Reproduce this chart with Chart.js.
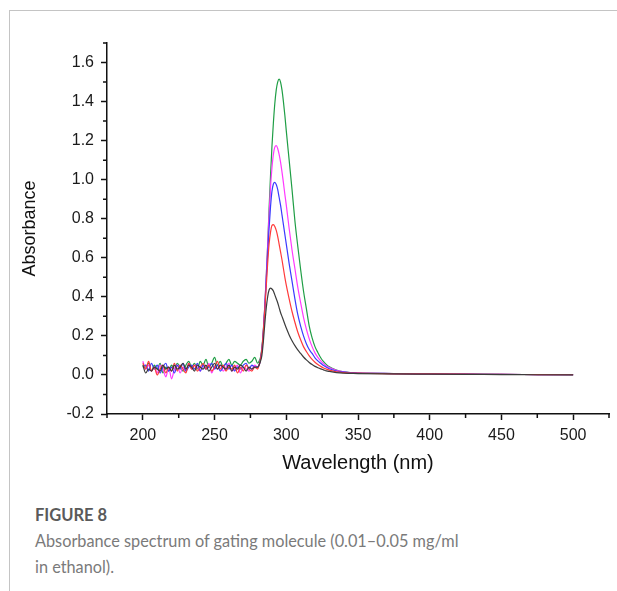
<!DOCTYPE html>
<html>
<head>
<meta charset="utf-8">
<script src="https://cdn.jsdelivr.net/npm/chart.js"></script>
<style>
	html, body { margin: 0; padding: 0; background: #fff; }
	body { width: 617px; height: 591px; position: relative; overflow: hidden; }
	#frame { position: absolute; left: 9px; top: 10px; width: 608px; height: 581px;
		border-top: 1px solid #c4c4c4; border-left: 1px solid #c4c4c4; }
	#chartBox { position: absolute; left: 0; top: 0; width: 617px; height: 480px; }
	#caption { position: absolute; left: 35px; top: 503px; font-family: Lato, "Open Sans", sans-serif; }
	#caption .fig { font-size: 16.5px; font-weight: bold; color: #5a5a5a; line-height: 24px; }
	#caption .txt { font-size: 16.3px; font-weight: 400; color: #7a7a7a; line-height: 26px; margin-top: 1px; }
</style>
</head>
<body>
<div id="frame"></div>
<div id="chartBox"><canvas id="absChart" width="617" height="480"></canvas></div>
<div id="caption">
	<div class="fig">FIGURE 8</div>
	<div class="txt">Absorbance spectrum of gating molecule (0.01–0.05 mg/ml<br>in ethanol).</div>
</div>
<script>
// 파장 (nm)
var wavelengths = [200,202,204,206,208,210,212,214,216,218,220,222,224,226,228,230,232,234,236,238,
	240,242,244,246,248,250,252,254,256,258,260,262,264,266,268,270,272,274,276,278,
	280,281,282,283,284,285,286,287,288,289,290,291,292,293,294,295,296,297,298,299,300,
	302,304,306,308,310,312,314,316,318,320,322,324,326,328,330,
	335,340,345,350,375,400,425,450,475,500];

// 흡광도 - 농도별
var abs001 = [0.05,0.01,0.03,0.02,0.04,0.03,0.02,0.05,0.03,0.04,0.02,0.05,0.03,0.04,0.06,0.03,0.05,0.04,0.02,0.05,
	0.04,0.03,0.05,0.02,0.04,0.06,0.03,0.05,0.04,0.03,0.05,0.02,0.04,0.03,0.05,0.04,0.02,0.04,0.03,0.04,
	0.04,0.05,0.07,0.10,0.17,0.26,0.34,0.40,0.435,0.445,0.44,0.43,0.41,0.39,0.37,0.345,0.32,0.30,0.28,0.26,0.24,
	0.205,0.175,0.15,0.128,0.11,0.092,0.077,0.064,0.053,0.044,0.037,0.031,0.026,0.021,0.018,
	0.012,0.009,0.008,0.007,0.005,0.004,0.003,0.002,0.001,0.0];
var abs002 = [0.06,0.03,0.07,0.02,0.04,0.00,0.03,0.05,0.01,0.04,0.02,0.06,0.02,0.05,0.03,0.01,0.06,0.03,0.05,0.02,
	0.04,0.06,0.03,0.05,0.02,0.04,0.07,0.03,0.05,0.02,0.04,0.03,0.05,0.01,0.04,0.02,0.05,0.03,0.02,0.04,
	0.03,0.05,0.08,0.13,0.22,0.33,0.45,0.57,0.67,0.73,0.765,0.77,0.76,0.74,0.71,0.67,0.63,0.59,0.545,0.50,0.46,
	0.39,0.325,0.27,0.22,0.18,0.145,0.12,0.098,0.08,0.065,0.053,0.044,0.036,0.03,0.025,
	0.016,0.012,0.01,0.009,0.006,0.005,0.004,0.003,0.002,0.001];
var abs003 = [0.04,0.05,0.02,0.06,0.03,0.05,0.01,0.04,0.06,0.02,0.04,0.01,0.05,0.03,0.06,0.02,0.04,0.05,0.03,0.06,
	0.02,0.05,0.03,0.04,0.06,0.03,0.05,0.02,0.04,0.06,0.03,0.05,0.02,0.04,0.03,0.05,0.06,0.03,0.05,0.04,
	0.04,0.05,0.08,0.13,0.22,0.34,0.48,0.62,0.75,0.86,0.94,0.978,0.986,0.975,0.95,0.91,0.87,0.82,0.77,0.72,0.67,
	0.57,0.48,0.39,0.31,0.25,0.20,0.16,0.13,0.11,0.088,0.072,0.06,0.048,0.039,0.032,
	0.02,0.014,0.011,0.01,0.007,0.005,0.004,0.003,0.002,0.001];
var abs004 = [0.07,0.03,0.05,0.02,0.04,0.01,0.05,0.03,-0.01,0.04,-0.02,0.03,0.05,0.01,0.04,0.02,0.06,0.03,0.05,0.04,
	0.02,0.05,0.03,0.06,0.01,0.04,0.03,0.05,0.02,0.04,0.06,0.02,0.03,0.05,0.01,0.04,0.03,0.02,0.03,0.05,
	0.04,0.05,0.08,0.13,0.22,0.35,0.50,0.66,0.82,0.96,1.06,1.13,1.167,1.174,1.16,1.13,1.09,1.04,0.985,0.925,0.87,
	0.75,0.64,0.545,0.45,0.37,0.295,0.235,0.185,0.145,0.113,0.09,0.072,0.058,0.046,0.038,
	0.024,0.016,0.012,0.01,0.007,0.005,0.004,0.003,0.002,0.001];
var abs005 = [0.05,0.04,0.06,0.02,0.05,0.03,0.06,0.01,0.04,0.02,0.05,0.03,0.06,0.04,0.02,0.05,0.07,0.04,0.06,0.03,
	0.07,0.05,0.08,0.04,0.06,0.09,0.05,0.07,0.04,0.06,0.08,0.05,0.07,0.06,0.05,0.07,0.08,0.06,0.07,0.09,
	0.06,0.07,0.09,0.14,0.23,0.35,0.50,0.66,0.85,1.02,1.17,1.29,1.39,1.46,1.50,1.515,1.50,1.46,1.40,1.33,1.25,
	1.10,0.95,0.79,0.66,0.54,0.43,0.34,0.25,0.19,0.145,0.115,0.088,0.068,0.053,0.042,
	0.025,0.016,0.012,0.01,0.007,0.005,0.004,0.003,0.002,0.001];

// 눈금
var xTicks = [200, 250, 300, 350, 400, 450, 500];
var xMinorTicks = [175, 225, 275, 325, 375, 425, 475, 525];
var yTicks = [-0.2, 0.0, 0.2, 0.4, 0.6, 0.8, 1.0, 1.2, 1.4, 1.6];
var yMinorTicks = [-0.1, 0.1, 0.3, 0.5, 0.7, 0.9, 1.1, 1.3, 1.5, 1.7];

function toPoints(values) {
	return values.map(function(v, i) { return { x: wavelengths[i], y: v }; });
}

function makeSet(label, values, color) {
	return {
		label: label,
		data: toPoints(values),
		borderColor: color,
		borderWidth: 1.2,
		pointRadius: 0,
		fill: false,
		cubicInterpolationMode: 'monotone'
	};
}

// 보조 눈금 그리기
var minorTickPlugin = {
	id: 'minorTicks',
	afterDraw: function(chart) {
		var ctx = chart.ctx;
		var area = chart.chartArea;
		var xs = chart.scales.x, ys = chart.scales.y;
		ctx.save();
		ctx.strokeStyle = '#111';
		ctx.lineWidth = 1.5;
		ctx.beginPath();
		xMinorTicks.forEach(function(v) {
			var px = xs.getPixelForValue(v);
			ctx.moveTo(px, area.bottom);
			ctx.lineTo(px, area.bottom + 4);
		});
		yMinorTicks.forEach(function(v) {
			var py = ys.getPixelForValue(v);
			ctx.moveTo(area.left, py);
			ctx.lineTo(area.left - 4, py);
		});
		ctx.stroke();
		ctx.restore();
	}
};

var fontName = "'Liberation Sans', Arial, sans-serif";
var tickFont = { family: fontName, size: 16 };

new Chart(document.getElementById('absChart').getContext('2d'), {
	type: 'line',
	data: {
		datasets: [
			makeSet('0.01 mg/ml', abs001, '#3c3c3c'),
			makeSet('0.02 mg/ml', abs002, '#ff3a3a'),
			makeSet('0.03 mg/ml', abs003, '#3a3aff'),
			makeSet('0.04 mg/ml', abs004, '#ff3aff'),
			makeSet('0.05 mg/ml', abs005, '#1f9e45')
		]
	},
	options: {
		responsive: false,
		animation: false,
		layout: { padding: { top: 43, right: 8, left: 0, bottom: 0 } },
		plugins: {
			legend: { display: false },
			tooltip: { enabled: false }
		},
		scales: {
			x: {
				type: 'linear',
				min: 175,
				max: 525,
				afterFit: function(scale) { scale.height = 66; },
				afterBuildTicks: function(scale) {
					scale.ticks = xTicks.map(function(v) { return { value: v }; });
				},
				border: { display: true, color: '#111', width: 1.5 },
				grid: { drawOnChartArea: false, drawTicks: true, tickLength: 6, color: '#111', tickWidth: 1.5 },
				ticks: { color: '#1a1a1a', font: tickFont, padding: 6, maxRotation: 0,
					callback: function(v) { return v; } },
				title: { display: true, text: 'Wavelength (nm)', color: '#111',
					font: { family: fontName, size: 20 },
					padding: { top: 0, bottom: 5 } }
			},
			y: {
				min: -0.2,
				max: 1.7,
				afterFit: function(scale) { scale.width = 107; },
				afterBuildTicks: function(scale) {
					scale.ticks = yTicks.map(function(v) { return { value: v }; });
				},
				border: { display: true, color: '#111', width: 1.5 },
				grid: { drawOnChartArea: false, drawTicks: true, tickLength: 6, color: '#111', tickWidth: 1.5 },
				ticks: { color: '#1a1a1a', font: tickFont, padding: 7,
					callback: function(v) { return v.toFixed(1); } },
				title: { display: true, text: 'Absorbance', color: '#111',
					font: { family: fontName, size: 18 },
					padding: { top: 19, bottom: 0 } }
			}
		}
	},
	plugins: [minorTickPlugin]
});
</script>
</body>
</html>
